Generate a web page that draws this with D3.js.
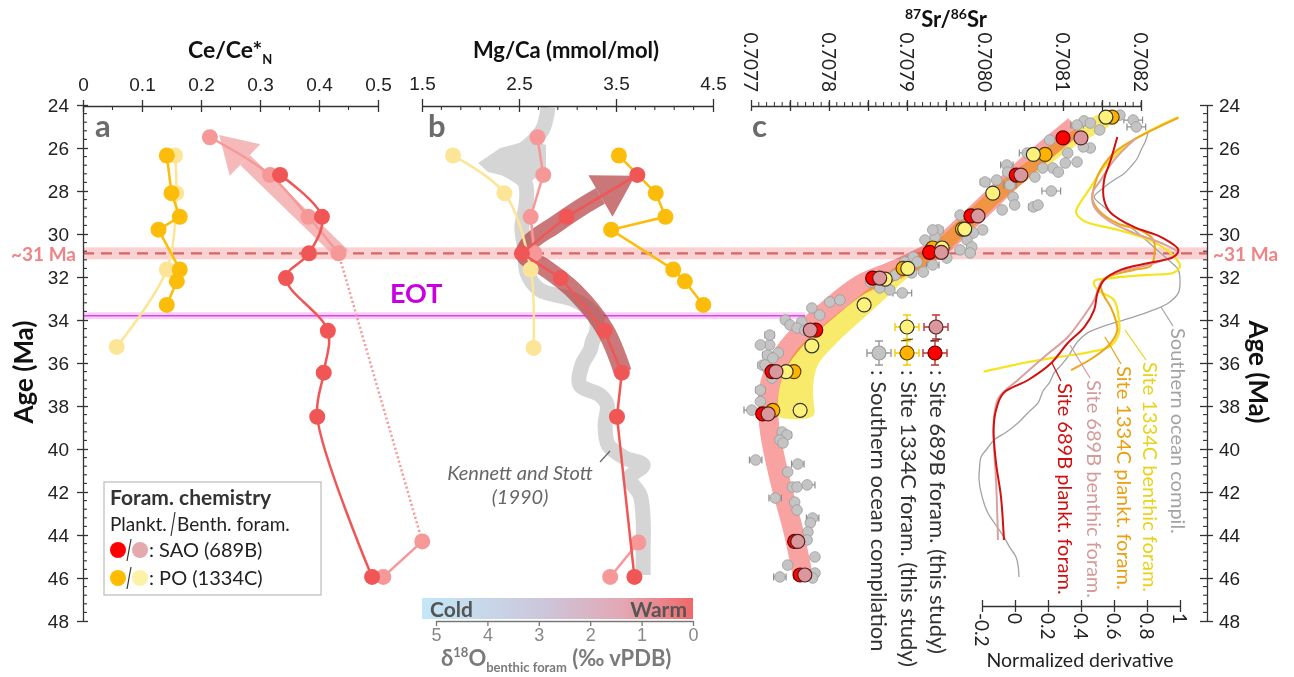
<!DOCTYPE html>
<html><head><meta charset="utf-8">
<script src="https://cdn.jsdelivr.net/npm/d3@7/dist/d3.min.js"></script>
<style>
html,body{margin:0;padding:0;background:#fff;}
svg{display:block;font-family:Lato,"Open Sans","Liberation Sans",sans-serif;}
</style></head><body>
<svg id="chart" width="1294" height="677"></svg>
<script>
// ================= DATA =================
const ageTicks = [24,26,28,30,32,34,36,38,40,42,44,46,48];
const ceTicks = [0,0.1,0.2,0.3,0.4,0.5];
const ceTickLabels = ["0","0.1","0.2","0.3","0.4","0.5"];
const mgTicks = [1.5,2.5,3.5,4.5];
const mgTickLabels = ["1.5","2.5","3.5","4.5"];
const srTicks = [0.7077,0.7078,0.7079,0.7080,0.7081,0.7082];
const srTickLabels = ["0.7077","0.7078","0.7079","0.7080","0.7081","0.7082"];
const d18Ticks = [5,4,3,2,1,0];
const d18TickLabels = ["5","4","3","2","1","0"];
const derivTicks = [-0.2,0,0.2,0.4,0.6,0.8,1];
const derivTickLabels = ["-0.2","0","0.2","0.4","0.6","0.8","1"];

const eventAge31 = 30.9;
const eventAgeEOT = 33.8;

// Panel a: Ce/Ce*N
const ceSAOPlanktAge = [27.25,29.2,30.9,32.05,34.5,36.45,38.5,45.95];
const ceSAOPlankt    = [0.334,0.405,0.383,0.344,0.415,0.408,0.397,0.490];
const ceSAOBenthAge  = [25.5,27.25,29.2,30.9,44.3,45.95];
const ceSAOBenth     = [0.215,0.317,0.382,0.433,0.575,0.509];
const cePOPlanktAge  = [26.35,28.1,29.2,29.8,31.65,32.2,33.3];
const cePOPlankt     = [0.142,0.150,0.164,0.128,0.164,0.159,0.142];
const cePOBenthAge   = [26.35,28.1,31.65,35.25];
const cePOBenth      = [0.156,0.158,0.142,0.057];
const ceArrowAge = [30.98,26.56];
const ceArrowVal = [0.441,0.2746];

// Panel b: Mg/Ca
const mgSAOPlanktAge = [27.25,29.2,30.9,32.05,34.5,36.45,38.5,45.95];
const mgSAOPlankt    = [3.72,2.99,2.53,2.93,3.38,3.56,3.51,3.69];
const mgSAOBenthAge  = [25.5,27.25,29.2,30.9];
const mgSAOBenth     = [2.69,2.75,2.62,2.66];
const mgSAOBenthAge2 = [44.35,45.95];
const mgSAOBenth2    = [3.73,3.44];
const mgPOPlanktAge  = [26.35,28.1,29.2,29.8,31.65,32.2,33.3];
const mgPOPlankt     = [3.53,3.91,4.01,3.45,4.09,4.21,4.40];
const mgPOBenthAge   = [26.35,28.1,31.65,35.3];
const mgPOBenth      = [1.82,2.35,2.62,2.65];
const mgArrowAge = [36.42,34.47,32.7,31.58,30.98,30.42,29.58,28.65,28.23];
const mgArrowVal = [3.57,3.39,3.08,2.77,2.56,2.61,2.87,3.18,3.34];
// Kennett and Stott (1990) benthic d18O
const ksAge   = [24.1,25.2,26.2,26.7,27.6,28.65,29.7,30.75,31.8,32.6,33.07,33.77,34.47,35.02,35.4,36.09,37.02,37.49,37.95,38.88,39.81,40.42,40.74,41.35,42.14,43.3,44.7,45.86];
const ksD18O  = [2.82,2.94,3.37,3.75,3.27,3.25,3.33,3.27,3.23,2.98,2.30,1.91,1.87,1.96,2.00,2.16,2.20,1.81,1.67,1.71,1.65,1.32,0.97,1.23,1.03,0.97,0.97,0.97];
const ksBlobAge  = [25.63,26.0,26.7,27.12,27.58,27.02,25.86];
const ksBlobD18O = [3.17,3.75,4.18,3.99,3.17,2.86,2.86];

// Panel c: 87Sr/86Sr
const sr689PAge = [25.53,27.26,29.16,30.85,32.05,34.47,36.4,38.37,44.3,45.86];
const sr689P    = [0.708100,0.708040,0.707982,0.707929,0.707856,0.707783,0.707727,0.707715,0.707756,0.707763];
const sr689BAge = [25.53,27.26,29.16,30.85,32.05,34.47,36.4,38.37,44.3,45.86];
const sr689B    = [0.708123,0.708046,0.707991,0.707944,0.707865,0.707776,0.707732,0.707722,0.707760,0.707769];
const sr1334PAge = [24.56,26.3,29.77,30.65,31.6,36.4,38.2];
const sr1334P    = [0.708163,0.708077,0.707971,0.707933,0.707895,0.707755,0.707728];
const sr1334BAge = [24.56,26.3,28.1,29.77,30.65,31.6,32.1,33.3,35.2,36.4,38.2];
const sr1334B    = [0.708155,0.708062,0.708010,0.707974,0.707945,0.707901,0.707872,0.707845,0.707778,0.707745,0.707763];
const soAge = [24.70,25.02,24.74,24.84,24.93,26.00,25.95,26.23,26.65,26.70,26.93,27.12,26.93,27.35,26.23,26.79,27.12,27.58,27.49,28.00,28.28,28.65,28.88,28.74,28.65,29.81,30.14,29.81,29.95,30.28,30.60,30.74,31.12,30.88,31.07,31.30,31.44,31.81,31.77,32.74,32.60,32.51,33.44,33.16,34.00,34.23,34.09,34.37,34.47,35.63,35.53,35.77,35.16,36.10,36.30,37.79,38.19,39.21,39.35,39.58,39.72,40.51,40.70,41.07,41.77,41.67,41.77,42.28,42.47,42.84,43.21,43.44,43.86,44.23,45.02,45.40,45.95,45.77,46.00,
  29.81,30.28,31.30,31.91,32.23,33.07,33.77,34.70,35.16,36.09,36.70,37.26,25.63,25.16,24.47,27.72,29.12];
const soSr  = [0.708190,0.708194,0.708127,0.708135,0.708118,0.708135,0.708126,0.708106,0.708118,0.708103,0.708087,0.708094,0.708074,0.708064,0.708054,0.708028,0.708029,0.708000,0.708015,0.708085,0.708036,0.708038,0.708022,0.708062,0.708068,0.707940,0.707936,0.707997,0.707985,0.707977,0.707983,0.707968,0.707951,0.707981,0.707908,0.707913,0.707933,0.707906,0.707921,0.707894,0.707878,0.707865,0.707778,0.707801,0.707744,0.707750,0.707765,0.707759,0.707769,0.707721,0.707735,0.707728,0.707724,0.707715,0.707722,0.707712,0.707701,0.707740,0.707746,0.707737,0.707741,0.707706,0.707760,0.707747,0.707753,0.707772,0.707759,0.707731,0.707756,0.707759,0.707779,0.707776,0.707773,0.707772,0.707782,0.707747,0.707737,0.707782,0.707779,
  0.707933,0.707923,0.707897,0.707885,0.707853,0.707814,0.707788,0.707724,0.707712,0.707718,0.707727,0.707712,0.708083,0.708147,0.708173,0.708032,0.707968];
const soErr = [0.000012,0.000012,0,0,0.000008,0,0,0,0,0,0,0,0,0,0.000010,0.000008,0,0.000006,0,0.000012,0,0,0,0.000006,0,0.000006,0,0,0,0,0,0,0,0,0,0,0.000008,0,0,0.000012,0,0,0,0,0,0,0,0,0,0.000006,0,0,0,0.000006,0,0,0.000010,0,0.000006,0,0,0.000008,0.000008,0,0,0.000010,0,0.000008,0,0,0.000008,0,0,0,0,0,0.000008,0,0,
  0,0,0,0,0,0,0,0.000006,0,0,0,0.000006,0,0,0,0.000008,0];
// trend bands
const band689Age = [24.98,27.12,29.12,30.74,31.67,32.37,33.63,34.93,36.09,37.49,39.12,41.44,43.77,46.0];
const band689Sr  = [0.708115,0.708045,0.707987,0.707936,0.707885,0.707840,0.707795,0.707756,0.707733,0.707722,0.707724,0.707737,0.707754,0.707767];
const band1334Age = [24.6,25.53,26.65,28.05,29.58,30.74,31.58,32.6,33.63,34.7,35.76,36.8,37.7,38.45];
const band1334Sr  = [0.708158,0.708115,0.708070,0.708019,0.707974,0.707938,0.707900,0.707867,0.707834,0.707800,0.707772,0.707760,0.707757,0.707757];
const band1334W   = [12,14,15,15,15,15,16,18,20,22,26,32,36,36];

// Normalized derivative curves
const dGrayAge = [25.3,25.7,26.09,26.5,26.88,27.2,27.49,27.95,28.28,28.74,29.35,29.95,30.6,31.21,31.67,32.28,32.74,33.21,33.53,33.86,34.23,34.6,35.0,35.72,36.1,36.47,36.9,37.3,37.86,38.3,38.79,39.2,39.58,40.0,40.37,40.9,41.44,42.2,42.98,43.5,44.09,44.6,45.02,45.5,45.95];
const dGray    = [0.806,0.79,0.764,0.74,0.70,0.66,0.60,0.52,0.48,0.54,0.64,0.745,0.84,0.93,0.99,1.0,0.99,0.93,0.84,0.72,0.56,0.44,0.38,0.32,0.28,0.236,0.21,0.17,0.14,0.08,0.018,-0.05,-0.127,-0.17,-0.206,-0.215,-0.218,-0.20,-0.164,-0.12,-0.067,-0.03,0.006,0.02,0.024];
const dYellowAge = [24.56,25.63,26.88,27.81,28.74,29.0,29.4,29.8,30.3,30.9,31.5,31.8,31.9,32.05,32.2,32.6,33.07,34.0,34.6,35.2,35.5,35.7,36.0,36.4];
const dYellow    = [0.99,0.72,0.54,0.46,0.38,0.37,0.42,0.62,0.82,0.945,1.0,0.96,0.80,0.58,0.48,0.50,0.60,0.63,0.63,0.58,0.45,0.28,0.05,-0.19];
const dOrangeAge = [24.6,26.1,27.0,27.8,28.4,29.0,29.5,29.9,30.3,31.2,31.5,31.67,32.0,32.28,32.74,33.4,34.0,34.47,35.07,35.72,36.33];
const dOrange    = [0.99,0.62,0.52,0.48,0.47,0.52,0.62,0.78,0.84,0.84,0.82,0.72,0.56,0.52,0.53,0.58,0.61,0.62,0.58,0.48,0.34];
const dPinkAge = [25.53,26.56,27.49,28.09,28.74,29.35,29.95,30.42,30.88,31.21,31.53,31.81,32.28,33.07,34.0,34.79,35.72,36.79,37.58,38.51,39.91,41.44,44.23];
const dPink    = [0.733,0.60,0.52,0.47,0.48,0.56,0.72,0.885,0.99,0.90,0.76,0.60,0.52,0.48,0.40,0.32,0.176,0.018,-0.097,-0.127,-0.127,-0.115,-0.103];
const dRedAge = [25.49,26.56,27.49,28.42,29.02,29.67,30.14,30.74,31.07,31.35,31.67,32.14,32.74,33.53,34.33,35.07,36.0,36.79,37.4,38.19,39.12,40.65,42.23,44.23];
const dRed    = [0.62,0.58,0.54,0.54,0.58,0.72,0.885,0.99,0.96,0.81,0.64,0.54,0.50,0.48,0.42,0.32,0.22,0.08,-0.07,-0.115,-0.13,-0.115,-0.085,-0.067];

// ================= COLORS =================
const C = {
  saoP:"#f05656", saoB:"#f69898", poP:"#fbbd0a", poB:"#fce597",
  red:"#ff0000", pink:"#d9989d", orange:"#ffb300", pale:"#fff27a",
  axis:"#333", txt:"#222"
};

// ================= SCALES =================
const svg = d3.select("#chart");
const y  = d3.scaleLinear().domain([24,48]).range([105,621]);
const xa = d3.scaleLinear().domain([0,0.5]).range([83,378]);
const xb = d3.scaleLinear().domain([1.5,4.5]).range([422,713]);
const xo = d3.scaleLinear().domain([0,5]).range([693,436]);
const xc = d3.scaleLinear().domain([0.7077,0.7082]).range([751,1141]);
const xn = d3.scaleLinear().domain([-0.2,1]).range([982,1180]);

const zip = (ages, vals) => ages.map((a,i)=>[vals[i],a]);
const lineGen = (xs, curve) => d3.line().x(d=>xs(d[0])).y(d=>y(d[1])).curve(curve||d3.curveLinear);

// ================= BACKGROUND BANDS =================
const gBg = svg.append("g");
gBg.append("rect").attr("x",83).attr("width",1207-83).attr("y",y(eventAge31)-6).attr("height",12).attr("fill","#f6b4b4").attr("opacity",0.6);
gBg.append("rect").attr("x",83).attr("width",805-83).attr("y",y(eventAgeEOT)-3.5).attr("height",7).attr("fill","#f7c6f2").attr("opacity",0.8);
gBg.append("line").attr("x1",83).attr("x2",805).attr("y1",y(eventAgeEOT)).attr("y2",y(eventAgeEOT)).attr("stroke","#d946ef").attr("stroke-width",1.5);

// Kennett & Stott grey band (panel b)
const gKS = svg.append("g").attr("opacity",0.95);
gKS.append("path").datum(zip(ksAge,ksD18O)).attr("d",lineGen(xo,d3.curveCatmullRom))
  .attr("fill","none").attr("stroke","#d3d3d3").attr("stroke-width",15).attr("stroke-linejoin","round").attr("stroke-linecap","butt");
gKS.append("path").datum(zip(ksBlobAge,ksBlobD18O)).attr("d",lineGen(xo,d3.curveLinearClosed)).attr("fill","#d3d3d3");

// Panel c trend bands
function ribbon(pts, widths){
  const L=[],R=[];
  pts.forEach((p,i)=>{
    const a=pts[Math.max(0,i-1)], b=pts[Math.min(pts.length-1,i+1)];
    let dx=b[0]-a[0], dy=b[1]-a[1]; const n=Math.hypot(dx,dy)||1; dx/=n; dy/=n;
    const w=widths[i]/2;
    L.push([p[0]-dy*w,p[1]+dx*w]); R.push([p[0]+dy*w,p[1]-dx*w]);
  });
  return L.concat(R.reverse());
}
const gBands = svg.append("g");
const yPts = band1334Age.map((a,i)=>[xc(band1334Sr[i]),y(a)]);
gBands.append("path").attr("d", d3.line().curve(d3.curveCatmullRomClosed)(ribbon(yPts,band1334W)))
  .attr("fill","#f8ea6a").style("mix-blend-mode","multiply");
gBands.append("path").datum(zip(band689Age,band689Sr)).attr("d",lineGen(xc,d3.curveCatmullRom))
  .attr("fill","none").attr("stroke","#f8a2a2").attr("stroke-width",20).style("mix-blend-mode","multiply");

// 31 Ma dashed line
svg.append("line").attr("x1",83).attr("x2",1207).attr("y1",y(eventAge31)).attr("y2",y(eventAge31))
  .attr("stroke","#d86464").attr("stroke-width",2.2).attr("stroke-dasharray","11,7");

// ================= ARROWS =================
function drawArrow(pts, shaftW, headLen, headHalf, color, op){
  const g = svg.append("g").attr("opacity",op);
  const n=pts.length, a=pts[n-2], b=pts[n-1];
  let dx=b[0]-a[0], dy=b[1]-a[1]; const L=Math.hypot(dx,dy); dx/=L; dy/=L;
  g.append("path").attr("d",d3.line().curve(d3.curveCatmullRom)(pts)).attr("fill","none").attr("stroke",color).attr("stroke-width",shaftW);
  const tip=[b[0]+dx*headLen,b[1]+dy*headLen];
  const l=[b[0]-dy*headHalf,b[1]+dx*headHalf], r=[b[0]+dy*headHalf,b[1]-dx*headHalf];
  g.append("path").attr("d","M"+l+"L"+tip+"L"+r+"Z").attr("fill",color);
}
drawArrow(ceArrowAge.map((a,i)=>[xa(ceArrowVal[i]),y(a)]), 14, 36, 22, "#f39c9c", 0.7);
drawArrow(mgArrowAge.map((a,i)=>[xb(mgArrowVal[i]),y(a)]), 18, 40, 24, "#b54446", 0.72);

// ================= PANEL a =================
function series(xs, ages, vals, color, curve, r){
  const d = zip(ages,vals);
  svg.append("path").datum(d).attr("d",lineGen(xs,curve)).attr("fill","none").attr("stroke",color).attr("stroke-width",2.5);
  svg.append("g").selectAll("circle").data(d).join("circle")
    .attr("cx",p=>xs(p[0])).attr("cy",p=>y(p[1])).attr("r",r||8).attr("fill",color);
}
series(xa, cePOBenthAge, cePOBenth, C.poB, d3.curveCatmullRom);
series(xa, cePOPlanktAge, cePOPlankt, C.poP, d3.curveLinear);
svg.append("path").datum(zip(ceSAOBenthAge.slice(0,4),ceSAOBenth.slice(0,4))).attr("d",lineGen(xa,d3.curveCatmullRom))
  .attr("fill","none").attr("stroke",C.saoB).attr("stroke-width",2.5);
svg.append("path").datum(zip(ceSAOBenthAge.slice(3,5),ceSAOBenth.slice(3,5))).attr("d",lineGen(xa))
  .attr("fill","none").attr("stroke",C.saoB).attr("stroke-width",2.5).attr("stroke-dasharray","2,2.5");
svg.append("path").datum(zip(ceSAOBenthAge.slice(4),ceSAOBenth.slice(4))).attr("d",lineGen(xa))
  .attr("fill","none").attr("stroke",C.saoB).attr("stroke-width",2.5);
svg.append("g").selectAll("circle").data(zip(ceSAOBenthAge,ceSAOBenth)).join("circle")
  .attr("cx",p=>xa(p[0])).attr("cy",p=>y(p[1])).attr("r",8).attr("fill",C.saoB);
series(xa, ceSAOPlanktAge, ceSAOPlankt, C.saoP, d3.curveCatmullRom);

// ================= PANEL b =================
series(xb, mgPOBenthAge, mgPOBenth, C.poB, d3.curveCatmullRom);
series(xb, mgPOPlanktAge, mgPOPlankt, C.poP);
series(xb, mgSAOBenthAge, mgSAOBenth, C.saoB);
series(xb, mgSAOBenthAge2, mgSAOBenth2, C.saoB);
series(xb, mgSAOPlanktAge, mgSAOPlankt, C.saoP);

// ================= PANEL c =================
const gSo = svg.append("g");
const soD = soAge.map((a,i)=>({a, s:soSr[i], e:soErr[i]}));
soD.filter(d=>d.e>0).forEach(d=>{
  const x1=xc(d.s-d.e), x2=xc(d.s+d.e), yy=y(d.a);
  gSo.append("path").attr("d",`M${x1},${yy}H${x2}M${x1},${yy-3.5}V${yy+3.5}M${x2},${yy-3.5}V${yy+3.5}`)
    .attr("stroke","#8e8e8e").attr("stroke-width",1.2).attr("fill","none");
});
gSo.selectAll("circle").data(soD).join("circle").attr("cx",d=>xc(d.s)).attr("cy",d=>y(d.a)).attr("r",5.3)
  .attr("fill","#c4c4c4").attr("stroke","#9a9a9a").attr("stroke-width",0.8);

function srPts(ages, vals, fill, stroke){
  svg.append("g").selectAll("circle").data(zip(ages,vals)).join("circle")
    .attr("cx",p=>xc(p[0])).attr("cy",p=>y(p[1])).attr("r",7).attr("fill",fill).attr("stroke",stroke).attr("stroke-width",1.2);
}
srPts(sr1334PAge, sr1334P, C.orange, "#5a4000");
srPts(sr1334BAge, sr1334B, C.pale, "#333");
srPts(sr689PAge, sr689P, C.red, "#600");
srPts(sr689BAge, sr689B, C.pink, "#5a2020");

// Panel c legend (rotated)
function legSym(cx, cy, fill, stroke, barCol){
  const g = svg.append("g");
  g.append("path").attr("d",`M${cx-12},${cy}H${cx+12}M${cx-12},${cy-4}V${cy+4}M${cx+12},${cy-4}V${cy+4}M${cx},${cy-12}V${cy+12}M${cx-4},${cy-12}H${cx+4}M${cx-4},${cy+12}H${cx+4}`)
    .attr("stroke",barCol).attr("stroke-width",1.4).attr("fill","none");
  g.append("circle").attr("cx",cx).attr("cy",cy).attr("r",7).attr("fill",fill).attr("stroke",stroke).attr("stroke-width",1.2);
}
legSym(936,327,C.pink,"#5a2020","#c03030");
legSym(907,327,C.pale,"#333","#f0d000");
legSym(935,353,C.red,"#600","#c03030");
legSym(907,353,C.orange,"#5a4000","#f0d000");
legSym(879,353,"#c4c4c4","#9a9a9a","#999");
[[907,340],[936,340]].forEach(p=>svg.append("line").attr("x1",p[0]-6).attr("x2",p[0]+6).attr("y1",p[1]+1).attr("y2",p[1]-1).attr("stroke","#333").attr("stroke-width",1));
const legC = [[938,": Site 689B foram. (this study)"],[909,": Site 1334C foram. (this study)"],[879,": Southern ocean compilation"]];
legC.forEach(l=>svg.append("text").attr("transform",`translate(${l[0]},370) rotate(90)`).attr("dy","0.35em")
  .attr("font-size",22).attr("fill","#333").text(l[1]));

// ================= DERIVATIVE PANEL =================
const dCurves = [
  [dGrayAge,dGray,"#a3a3a3",1.3],
  [dYellowAge,dYellow,"#f5e41c",2.2],
  [dOrangeAge,dOrange,"#eda51a",2],
  [dPinkAge,dPink,"#dca0a0",2],
  [dRedAge,dRed,"#d30f0f",2]
];
dCurves.forEach(c=>svg.append("path").datum(zip(c[0],c[1])).attr("d",lineGen(xn,d3.curveCatmullRom))
  .attr("fill","none").attr("stroke",c[2]).attr("stroke-width",c[3]));
const dLabels = [
  [1178,328,"Southern ocean compil.","#a3a3a3",[1173,326,1161,307]],
  [1150,362,"Site 1334C benthic foram.","#e8d21a",[1146,360,1125,330]],
  [1124,366,"Site 1334C plankt. foram.","#e8a010",[1121,364,1105,337]],
  [1094,380,"Site 689B benthic foram.","#d69a9a",[1090,378,1070,345]],
  [1065,383,"Site 689B plankt. foram.","#d01010",[1061,381,1052,363]]
];
dLabels.forEach(l=>{
  svg.append("line").attr("x1",l[4][0]).attr("y1",l[4][1]).attr("x2",l[4][2]).attr("y2",l[4][3]).attr("stroke",l[3]).attr("stroke-width",1.2);
  svg.append("text").attr("transform",`translate(${l[0]},${l[1]}) rotate(90)`).attr("dy","0.35em")
    .attr("font-size",20).attr("fill",l[3]).text(l[2]);
});

// ================= AXES =================
function styleAxis(g){ g.selectAll(".domain").attr("stroke",C.axis).attr("stroke-width",1.3);
  g.selectAll(".tick line").attr("stroke",C.axis).attr("stroke-width",1.3);
  g.selectAll("text").attr("font-size",19).attr("fill",C.txt).attr("font-family",null); }

const minorAges = d3.range(24,48.01,0.4).filter(v=>Math.abs(v/2-Math.round(v/2))>0.01);
const gL = svg.append("g").attr("transform","translate(83,0)")
  .call(d3.axisLeft(y).tickValues(ageTicks).tickSize(6).tickPadding(8).tickSizeOuter(0)).call(styleAxis);
gL.selectAll(".tick line").attr("x2",-6).attr("x1",5);
gL.append("g").selectAll("line").data(minorAges).join("line").attr("x1",0).attr("x2",4).attr("y1",y).attr("y2",y).attr("stroke",C.axis).attr("stroke-width",1.1);
const gR = svg.append("g").attr("transform","translate(1207,0)")
  .call(d3.axisRight(y).tickValues(ageTicks).tickSize(6).tickPadding(6).tickSizeOuter(0)).call(styleAxis);
gR.selectAll(".tick line").attr("x2",6).attr("x1",-7);
gR.append("g").selectAll("line").data(minorAges).join("line").attr("x1",0).attr("x2",-4).attr("y1",y).attr("y2",y).attr("stroke",C.axis).attr("stroke-width",1.1);
const gA = svg.append("g").attr("transform","translate(0,106)")
  .call(d3.axisTop(xa).tickValues(ceTicks).tickFormat((d,i)=>ceTickLabels[i]).tickSize(6).tickPadding(9).tickSizeOuter(0)).call(styleAxis);
gA.selectAll(".tick line").attr("y1",6);
gA.append("g").selectAll("line").data([0.05,0.15,0.25,0.35,0.45]).join("line").attr("x1",xa).attr("x2",xa).attr("y1",0).attr("y2",4).attr("stroke",C.axis).attr("stroke-width",1.1);
const gB = svg.append("g").attr("transform","translate(0,106)")
  .call(d3.axisTop(xb).tickValues(mgTicks).tickFormat((d,i)=>mgTickLabels[i]).tickSize(7).tickPadding(9).tickSizeOuter(0)).call(styleAxis);
gB.selectAll(".tick line").attr("y1",6);
gB.append("g").selectAll("line").data(d3.range(1.7,4.45,0.2).filter(v=>Math.abs(v-Math.round(v-0.5)-0.5)>0.01)).join("line")
  .attr("x1",xb).attr("x2",xb).attr("y1",0).attr("y2",4).attr("stroke",C.axis).attr("stroke-width",1.1);
const gC = svg.append("g").attr("transform","translate(0,106)")
  .call(d3.axisTop(xc).tickValues(d3.range(0.7077,0.708201,0.00005)).tickFormat("").tickSize(6).tickSizeOuter(0)).call(styleAxis);
gC.selectAll(".tick line").attr("y1",5);
gC.append("g").selectAll("line").data(d3.range(0.70771,0.70820,0.00001)).join("line")
  .attr("x1",xc).attr("x2",xc).attr("y1",0).attr("y2",-4).attr("stroke",C.axis).attr("stroke-width",1);
srTicks.forEach((t,i)=>svg.append("text").attr("transform",`translate(${xc(t)},92) rotate(90)`).attr("text-anchor","end")
  .attr("dy","0.35em").attr("font-size",19).attr("fill",C.txt).text(srTickLabels[i]));
const gN = svg.append("g").attr("transform","translate(0,606)")
  .call(d3.axisBottom(xn).tickValues(derivTicks).tickFormat("").tickSize(6).tickSizeOuter(0)).call(styleAxis);
gN.selectAll(".tick line").attr("y1",-6);
derivTicks.forEach((t,i)=>svg.append("text").attr("transform",`translate(${xn(t)},613) rotate(90)`)
  .attr("dy","0.35em").attr("font-size",19).attr("fill",C.txt).text(derivTickLabels[i]));
svg.append("text").attr("x",1080).attr("y",667).attr("text-anchor","middle").attr("font-size",19.5).attr("fill",C.txt).text("Normalized derivative");

// d18O colour bar + axis
const defs = svg.append("defs");
const grad = defs.append("linearGradient").attr("id","cw");
[["0%","#c3e8f9"],["45%","#ccc6da"],["75%","#e4a6b2"],["100%","#f06868"]].forEach(s=>grad.append("stop").attr("offset",s[0]).attr("stop-color",s[1]));
svg.append("rect").attr("x",422).attr("y",598).attr("width",271).attr("height",21).attr("fill","url(#cw)");
svg.append("text").attr("x",430).attr("y",617).attr("font-size",21).attr("font-weight","bold").attr("fill","#555").text("Cold");
svg.append("text").attr("x",687).attr("y",617).attr("text-anchor","end").attr("font-size",21).attr("font-weight","bold").attr("fill","#555").text("Warm");
const gO = svg.append("g").attr("transform","translate(0,621)")
  .call(d3.axisBottom(xo).tickValues(d18Ticks).tickFormat((d,i)=>d18TickLabels[i]).tickSize(5).tickPadding(2).tickSizeOuter(0)).call(styleAxis);
gO.selectAll(".domain,.tick line").attr("stroke","#777");
gO.selectAll("text").attr("fill","#888").attr("font-size",18);
const tO = svg.append("text").attr("x",441).attr("y",666).attr("fill","#7a7a7a").attr("font-weight","bold").attr("font-size",22);
tO.append("tspan").text("δ");
tO.append("tspan").attr("font-size",13).attr("dy",-9).text("18");
tO.append("tspan").attr("dy",9).text("O");
tO.append("tspan").attr("font-size",13).attr("dy",6).text("benthic foram");
tO.append("tspan").attr("dy",-6).text(" (‰ vPDB)");

// Kennett & Stott label
svg.append("text").attr("x",520).attr("y",480).attr("text-anchor","middle").attr("font-style","italic").attr("font-size",20).attr("fill","#666").text("Kennett and Stott");
svg.append("text").attr("x",520).attr("y",504).attr("text-anchor","middle").attr("font-style","italic").attr("font-size",20).attr("fill","#666").text("(1990)");
svg.append("line").attr("x1",600).attr("y1",462).attr("x2",610).attr("y2",451).attr("stroke","#666").attr("stroke-width",1.2);

// ================= TITLES & LABELS =================
const tCe = svg.append("text").attr("x",188).attr("y",58).attr("font-size",23).attr("font-weight","bold").attr("fill","#111");
tCe.append("tspan").text("Ce/Ce*");
tCe.append("tspan").attr("font-size",13).attr("dy",6).text("N");
svg.append("text").attr("x",566).attr("y",58).attr("text-anchor","middle").attr("font-size",22).attr("font-weight","bold").attr("fill","#111").text("Mg/Ca (mmol/mol)");
const tSr = svg.append("text").attr("x",946).attr("y",27).attr("text-anchor","middle").attr("font-size",22).attr("font-weight","bold").attr("fill","#111");
tSr.append("tspan").attr("font-size",14).attr("dy",-8).text("87");
tSr.append("tspan").attr("dy",8).text("Sr/");
tSr.append("tspan").attr("font-size",14).attr("dy",-8).text("86");
tSr.append("tspan").attr("dy",8).text("Sr");

svg.append("text").attr("transform","translate(33,372) rotate(-90)").attr("text-anchor","middle").attr("font-size",26).attr("font-weight","bold").attr("fill","#111").text("Age (Ma)");
svg.append("text").attr("transform","translate(1249,372) rotate(90)").attr("text-anchor","middle").attr("font-size",26).attr("font-weight","bold").attr("fill","#111").text("Age (Ma)");

[["a",95],["b",428],["c",752]].forEach(p=>svg.append("text").attr("x",p[1]).attr("y",137).attr("font-size",31).attr("font-weight","bold").attr("fill","#6b6b6b").text(p[0]));

svg.append("text").attr("x",76).attr("y",y(eventAge31)+8).attr("text-anchor","end").attr("font-size",19).attr("font-weight","bold").attr("fill","#f08484").text("~31 Ma");
svg.append("text").attr("x",1213).attr("y",y(eventAge31)+8).attr("font-size",19).attr("font-weight","bold").attr("fill","#f08484").text("~31 Ma");
svg.append("text").attr("x",390).attr("y",303).attr("font-size",27).attr("font-weight","bold").attr("fill","#c800e0").text("EOT");

// legend panel a
const gLeg = svg.append("g");
gLeg.append("rect").attr("x",104).attr("y",482).attr("width",217).attr("height",113).attr("fill","#fff").attr("stroke","#bbb").attr("stroke-width",1.2);
gLeg.append("text").attr("x",110).attr("y",505).attr("font-size",21).attr("font-weight","bold").attr("fill","#333").text("Foram. chemistry");
gLeg.append("text").attr("x",110).attr("y",531).attr("font-size",19).attr("fill","#222").text("Plankt.");
gLeg.append("line").attr("x1",171).attr("y1",536).attr("x2",175).attr("y2",512).attr("stroke","#333").attr("stroke-width",1.2);
gLeg.append("text").attr("x",177).attr("y",531).attr("font-size",19).attr("fill","#222").text("Benth. foram.");
[[550,C.red,"#e3a9ad",": SAO (689B)"],[578,"#ffbb00","#fbf2a8",": PO (1334C)"]].forEach(r=>{
  gLeg.append("circle").attr("cx",118).attr("cy",r[0]).attr("r",8).attr("fill",r[1]);
  gLeg.append("line").attr("x1",127).attr("y1",r[0]+11).attr("x2",131).attr("y2",r[0]-11).attr("stroke","#333").attr("stroke-width",1.2);
  gLeg.append("circle").attr("cx",140).attr("cy",r[0]).attr("r",8).attr("fill",r[2]);
  gLeg.append("text").attr("x",149).attr("y",r[0]+7).attr("font-size",20).attr("fill","#222").text(r[3]);
});
</script>
</body></html>
